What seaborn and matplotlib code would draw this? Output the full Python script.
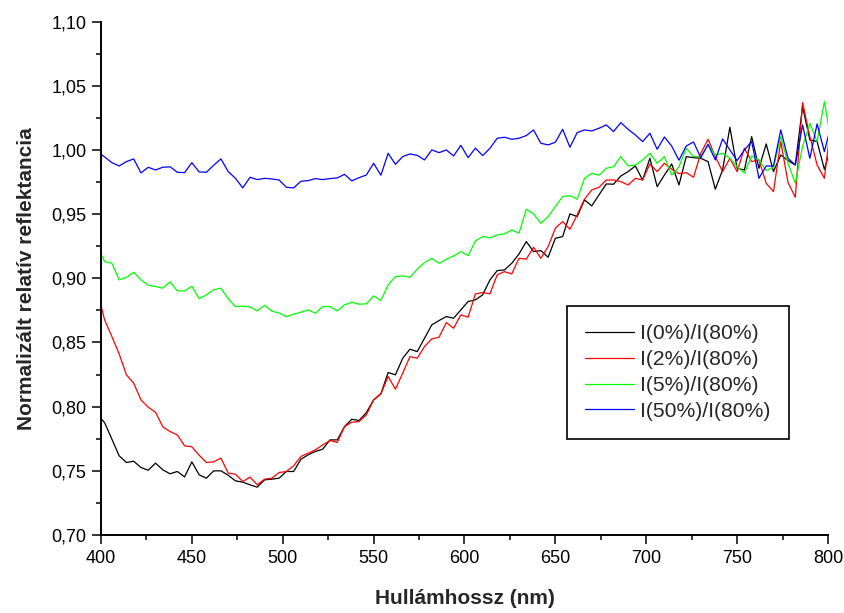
import numpy as np
import pandas as pd
import matplotlib
matplotlib.use("Agg")
import matplotlib.pyplot as plt
from matplotlib.ticker import MultipleLocator, FuncFormatter
import seaborn as sns

# Wavelength grid (nm); the axis range 400-800 clips the two outer samples
wavelength = list(range(398, 803, 4))

i0 = [0.794, 0.7875, 0.7747, 0.7617, 0.7565, 0.7575, 0.7526, 0.7505, 0.7560, 0.7508,
      0.7477, 0.7495, 0.7453, 0.7570, 0.7469, 0.7443, 0.7500, 0.7500, 0.7466, 0.7422,
      0.7412, 0.7391, 0.7373, 0.7430, 0.7435, 0.7443, 0.7495, 0.7495, 0.7590, 0.7625,
      0.7651, 0.7669, 0.7741, 0.7741, 0.7845, 0.7902, 0.7892, 0.7954, 0.8053, 0.8100,
      0.8266, 0.8248, 0.8377, 0.8448, 0.8429, 0.8533, 0.8637, 0.8671, 0.8702, 0.8689,
      0.8754, 0.8819, 0.8832, 0.8871, 0.8988, 0.9060, 0.9065, 0.9117, 0.9190, 0.9286,
      0.9208, 0.9216, 0.9164, 0.9312, 0.9325, 0.9502, 0.9481, 0.9611, 0.9564, 0.9650,
      0.9735, 0.9733, 0.9797, 0.9831, 0.9875, 0.9766, 0.9935, 0.9714, 0.9805, 0.9891,
      0.9727, 0.9948, 0.9940, 0.9935, 0.9909, 0.9694, 0.9844, 1.0177, 0.9857, 0.9844,
      1.0104, 0.9857, 1.0047, 0.9831, 0.9961, 0.9917, 0.9883, 1.0338, 1.0078, 1.0065,
      0.9849, 1.0040]

i2 = [0.8900, 0.8676, 0.8546, 0.8411, 0.8248, 0.8183, 0.8053, 0.7996, 0.7957, 0.7843,
      0.7806, 0.7780, 0.7695, 0.7687, 0.7622, 0.7565, 0.7570, 0.7599, 0.7482, 0.7474,
      0.7417, 0.7451, 0.7391, 0.7435, 0.7443, 0.7487, 0.7495, 0.7539, 0.7612, 0.7638,
      0.7664, 0.7702, 0.7736, 0.7721, 0.7845, 0.7879, 0.7884, 0.7936, 0.8053, 0.8100,
      0.8235, 0.8136, 0.8261, 0.8390, 0.8377, 0.8468, 0.8528, 0.8541, 0.8655, 0.8611,
      0.8715, 0.8697, 0.8879, 0.8889, 0.8879, 0.9027, 0.9052, 0.9034, 0.9156, 0.9149,
      0.9242, 0.9156, 0.9247, 0.9390, 0.9442, 0.9382, 0.9494, 0.9616, 0.9688, 0.9709,
      0.9766, 0.9766, 0.9753, 0.9727, 0.9779, 0.9766, 0.9891, 0.9831, 0.9896, 0.9850,
      0.9815, 0.9823, 0.9787, 0.9974, 1.0083, 0.9948, 0.9831, 0.9935, 0.9831, 1.0013,
      0.9909, 0.9922, 0.9740, 0.9675, 1.0065, 0.9746, 0.9631, 1.0369, 1.0104, 0.9883,
      0.9779, 1.0250]

i5 = [0.9250, 0.9130, 0.9117, 0.8988, 0.9008, 0.9047, 0.8988, 0.8946, 0.8936, 0.8923,
      0.8972, 0.8902, 0.8902, 0.8938, 0.8842, 0.8871, 0.8910, 0.8923, 0.8840, 0.8780,
      0.8783, 0.8777, 0.8746, 0.8790, 0.8744, 0.8730, 0.8702, 0.8720, 0.8736, 0.8754,
      0.8728, 0.8780, 0.8780, 0.8746, 0.8793, 0.8814, 0.8798, 0.8801, 0.8863, 0.8827,
      0.8949, 0.9013, 0.9019, 0.9008, 0.9071, 0.9123, 0.9156, 0.9117, 0.9148, 0.9174,
      0.9208, 0.9177, 0.9291, 0.9325, 0.9315, 0.9338, 0.9346, 0.9377, 0.9351, 0.9538,
      0.9502, 0.9429, 0.9481, 0.9559, 0.9637, 0.9644, 0.9616, 0.9779, 0.9818, 0.9803,
      0.9857, 0.9870, 0.9948, 0.9875, 0.9883, 0.9922, 0.9974, 0.9896, 0.9948, 0.9805,
      0.9870, 1.0013, 0.9948, 0.9948, 1.0039, 0.9961, 0.9974, 0.9935, 0.9870, 0.9820,
      0.9953, 0.9922, 0.9839, 0.9865, 1.0104, 0.9896, 0.9740, 1.0026, 1.0208, 1.0065,
      1.0377, 1.0040]

i50 = [0.9990, 0.9945, 0.9901, 0.9875, 0.9909, 0.9930, 0.9821, 0.9865, 0.9844, 0.9865,
       0.9869, 0.9826, 0.9823, 0.9901, 0.9829, 0.9826, 0.9881, 0.9930, 0.9831, 0.9779,
       0.9704, 0.9787, 0.9769, 0.9779, 0.9774, 0.9766, 0.9709, 0.9704, 0.9756, 0.9761,
       0.9777, 0.9769, 0.9777, 0.9782, 0.9810, 0.9759, 0.9784, 0.9805, 0.9896, 0.9803,
       0.9974, 0.9888, 0.9948, 0.9969, 0.9958, 0.9922, 1.0000, 0.9979, 1.0000, 0.9953,
       1.0036, 0.9940, 1.0014, 0.9956, 1.0013, 1.0091, 1.0099, 1.0083, 1.0091, 1.0112,
       1.0156, 1.0052, 1.0039, 1.0060, 1.0161, 1.0021, 1.0135, 1.0156, 1.0148, 1.0169,
       1.0195, 1.0143, 1.0213, 1.0161, 1.0117, 1.0065, 1.0130, 1.0005, 1.0101, 1.0030,
       0.9920, 1.0031, 1.0062, 0.9940, 1.0044, 0.9922, 1.0086, 1.0000, 0.9917, 1.0000,
       1.0065, 0.9779, 0.9875, 0.9875, 1.0156, 0.9935, 0.9883, 1.0195, 0.9935, 1.0203,
       0.9987, 1.0210]

series_labels = ["I(0%)/I(80%)", "I(2%)/I(80%)", "I(5%)/I(80%)", "I(50%)/I(80%)"]
series_colors = ["#000000", "#ff0000", "#00ff00", "#0000ff"]

x_label = "Hullámhossz (nm)"
y_label = "Normalizált relatív reflektancia"

df = pd.concat(
    [pd.DataFrame({"wl": wavelength, "val": vals, "series": lab})
     for vals, lab in zip([i0, i2, i5, i50], series_labels)],
    ignore_index=True,
)

sns.set_style("ticks")
plt.rcParams["font.family"] = ["Liberation Sans", "DejaVu Sans"]

fig = plt.figure(figsize=(8.45, 6.13), dpi=100)
ax = fig.add_axes([0.1195, 0.1272, 0.8604, 0.8376])

sns.lineplot(data=df, x="wl", y="val", hue="series", hue_order=series_labels,
             palette=series_colors, linewidth=0.9, ax=ax, legend=True,
             estimator=None, sort=False)

ax.set_xlim(400, 800)
ax.set_ylim(0.70, 1.10)
ax.xaxis.set_major_locator(MultipleLocator(50))
ax.xaxis.set_minor_locator(MultipleLocator(25))
ax.yaxis.set_major_locator(MultipleLocator(0.05))
ax.yaxis.set_minor_locator(MultipleLocator(0.025))
ax.yaxis.set_major_formatter(FuncFormatter(lambda v, p: f"{v:.2f}".replace(".", ",")))

sns.despine(ax=ax)
for side in ("left", "bottom"):
    ax.spines[side].set_linewidth(1.4)
    ax.spines[side].set_color("black")
ax.tick_params(which="major", direction="out", length=6.5, width=1.1,
               labelsize=13, colors="black", pad=4)
ax.tick_params(which="minor", direction="out", length=3.5, width=1.1, colors="black")

ax.set_xlabel(x_label, fontsize=15, fontweight="bold", labelpad=16)
ax.set_ylabel(y_label, fontsize=15, fontweight="bold", labelpad=11)

handles, labels = ax.get_legend_handles_labels()
leg = ax.legend(handles, labels, loc="upper left", bbox_to_anchor=(0.641, 0.446),
                borderaxespad=0, fontsize=15.2, frameon=True, fancybox=False,
                edgecolor="black", framealpha=1, handlelength=2.3,
                handletextpad=0.32, labelspacing=0.33, borderpad=0.85)
leg.get_frame().set_linewidth(1.2)
for h in leg.get_lines():
    h.set_linewidth(0.9)

fig.savefig("out.png", dpi=100)
